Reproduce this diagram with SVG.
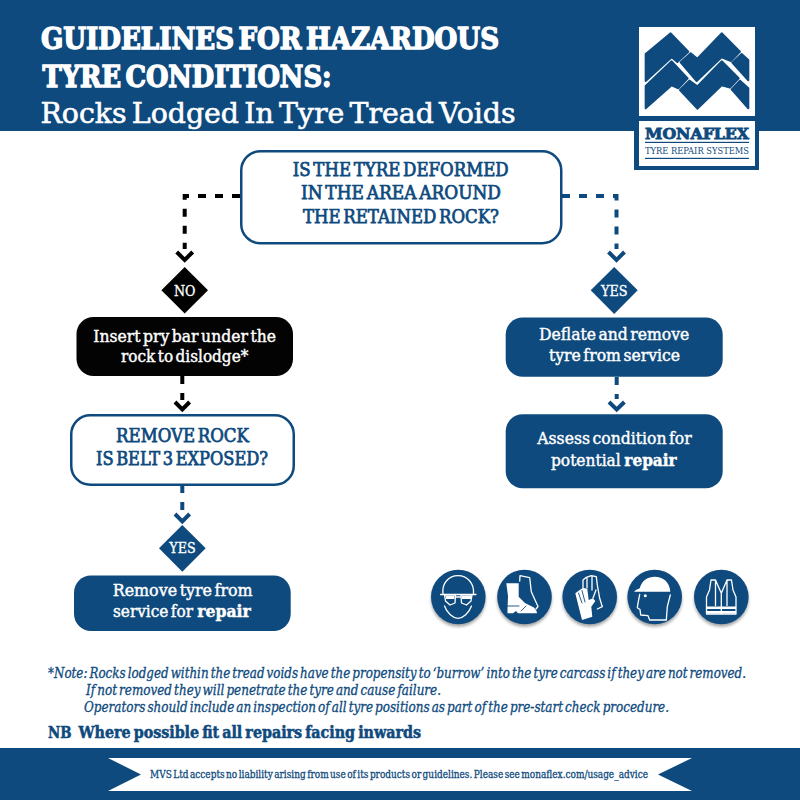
<svg xmlns="http://www.w3.org/2000/svg" width="800" height="800" viewBox="0 0 800 800">
<style>
.t{font-family:"DejaVu Serif Condensed","DejaVu Serif","Liberation Serif",serif}
.h1{font-size:29px;font-weight:bold;fill:#fff;stroke:#fff;stroke-width:1.300px;word-spacing:-.16em}
.h2{font-size:28px;fill:#fff;stroke:#fff;stroke-width:.55px;word-spacing:-.12em}
.q{font-size:19px;fill:#0e4a7e;stroke:#0e4a7e;stroke-width:.75px;word-spacing:-.14em}
.n{font-size:16.500px;fill:#fff;stroke:#fff;stroke-width:.4px;word-spacing:-.14em}
.rep{font-weight:bold}
.d{font-size:14px;fill:#fff;stroke:#fff;stroke-width:.3px}
.note{font-size:14px;font-style:italic;fill:#0e4a7e;stroke:#0e4a7e;stroke-width:.3px;word-spacing:-1.800px}
.nb{font-size:16px;font-weight:bold;fill:#0e4a7e;stroke:#0e4a7e;stroke-width:.5px;word-spacing:-.12em}
.foot{font-size:11.500px;fill:#0e4a7e;stroke:#0e4a7e;stroke-width:.3px;word-spacing:-.14em}
.dk{fill:none;stroke:#000;stroke-width:4;stroke-dasharray:8 9}
.db{fill:none;stroke:#0e4a7e;stroke-width:4;stroke-dasharray:8 9}
.ck{fill:none;stroke:#000;stroke-width:4}
.cb{fill:none;stroke:#0e4a7e;stroke-width:4}
.ic{fill:none;stroke:#fff;stroke-width:1.300;stroke-linejoin:round;stroke-linecap:round}
.if{fill:#fff;stroke:none}
.il{fill:none;stroke:#0e4a7e;stroke-width:.9;stroke-linecap:round}
</style>
<defs><filter id="sh" x="-20%" y="-20%" width="140%" height="150%"><feGaussianBlur stdDeviation="1.500"/></filter></defs>
<rect width="800" height="800" fill="#fff"/>
<rect id="header" width="800" height="131" fill="#0e4a7e"/>
<rect id="footer" y="748" width="800" height="52" fill="#0e4a7e"/>
<text class="t h1" x="41" y="48.500" textLength="458" lengthAdjust="spacingAndGlyphs">GUIDELINES FOR HAZARDOUS</text>
<text class="t h1" x="42.500" y="86.500" textLength="289" lengthAdjust="spacingAndGlyphs">TYRE CONDITIONS:</text>
<text class="t h2" x="40.500" y="122.500" textLength="475" lengthAdjust="spacingAndGlyphs">Rocks Lodged In Tyre Tread Voids</text>
<g id="logo">
<rect x="634" y="120" width="125" height="50" fill="#0e4a7e"/>
<rect x="639" y="27" width="116" height="89" fill="#fff"/>
<rect x="639" y="121" width="116" height="45" fill="#fff"/>
<g transform="translate(620 10) scale(.3333)" fill="#0e4a7e" stroke="#0e4a7e" stroke-width="6" stroke-linejoin="round">
<path d="M77 132 152 70 205 125 172 156 155 142 77 213Z"/>
<path d="M182 157 212 130 232 146 305 70 360 125 333 153 305 142 230 213Z"/>
<path d="M337 158 365 132 385 150 385 211Z"/>
<path d="M77 228 155 154 203 205 175 235 155 226 77 295Z"/>
<path d="M180 240 208 212 232 229 305 154 356 205 330 233 305 226 232 296Z"/>
<path d="M335 238 360 212 385 235 385 295Z"/>
</g>
<text class="t" x="645" y="139" font-size="15.500" font-weight="bold" fill="#0e4a7e" stroke="#0e4a7e" stroke-width=".8" textLength="104" lengthAdjust="spacingAndGlyphs">MONAFLEX</text>
<rect x="645" y="141.800" width="104" height="1.200" fill="#0e4a7e"/>
<text class="t" x="645" y="154" font-size="9" fill="#0e4a7e" textLength="104" lengthAdjust="spacingAndGlyphs">TYRE REPAIR SYSTEMS</text>
<rect x="645" y="157.800" width="104" height="1.200" fill="#0e4a7e"/>
</g>
<g id="connectors">
<path class="dk" d="M240 196H184.700V249"/>
<path class="ck" d="M176.700 252 184.700 260 192.700 252"/>
<path class="dk" d="M182.300 376V400"/>
<path class="ck" d="M175 402 182.300 409.500 189.600 402"/>
<path class="db" d="M562 196H616.500V249"/>
<path class="cb" d="M608.500 252 616.500 260 624.500 252"/>
<path class="db" d="M182.300 485V510"/>
<path class="cb" d="M175 514 182.300 521.300 189.600 514"/>
<path class="db" d="M616.700 377V399"/>
<path class="cb" d="M609 402 616.700 409.500 624.400 402"/>
</g>
<g id="q1"><rect x="241.250" y="151.250" width="320" height="92" rx="19" fill="#fff" stroke="#0e4a7e" stroke-width="2.500"/>
<text class="t q" x="292.700" y="175.700" textLength="216" lengthAdjust="spacingAndGlyphs">IS THE TYRE DEFORMED</text>
<text class="t q" x="301" y="199.300" textLength="200" lengthAdjust="spacingAndGlyphs">IN THE AREA AROUND</text>
<text class="t q" x="303" y="222.700" textLength="196" lengthAdjust="spacingAndGlyphs">THE RETAINED ROCK?</text></g>
<g id="no"><path d="M184.700 267 208 290.300 184.700 313.600 161.400 290.300Z" fill="#000"/>
<text class="t d" x="174" y="296" textLength="21.500" lengthAdjust="spacingAndGlyphs">NO</text></g>
<g id="yes-right"><path d="M614.200 267 637.700 290.300 614.200 314 590.700 290.300Z" fill="#0e4a7e"/>
<text class="t d" x="601" y="296" textLength="26.500" lengthAdjust="spacingAndGlyphs">YES</text></g>
<g id="pry"><rect x="76.500" y="317" width="216.500" height="59" rx="17" fill="#030303"/>
<text class="t n" x="93.300" y="341.700" textLength="182.700" lengthAdjust="spacingAndGlyphs">Insert pry bar under the</text>
<text class="t n" x="121" y="362.300" textLength="127.300" lengthAdjust="spacingAndGlyphs">rock to dislodge*</text></g>
<g id="deflate"><rect x="505.700" y="317.500" width="217" height="59.200" rx="17" fill="#0e4a7e"/>
<text class="t n" x="539" y="340" textLength="150.300" lengthAdjust="spacingAndGlyphs">Deflate and remove</text>
<text class="t n" x="549" y="360.700" textLength="131" lengthAdjust="spacingAndGlyphs">tyre from service</text></g>
<g id="remove"><rect x="71.250" y="415.250" width="222.500" height="69.500" rx="19" fill="#fff" stroke="#0e4a7e" stroke-width="2.500"/>
<text class="t q" x="116" y="442.300" textLength="133" lengthAdjust="spacingAndGlyphs">REMOVE ROCK</text>
<text class="t q" x="96" y="465" textLength="172" lengthAdjust="spacingAndGlyphs">IS BELT 3 EXPOSED?</text></g>
<g id="assess"><rect x="505.700" y="414.300" width="217" height="74" rx="17" fill="#0e4a7e"/>
<text class="t n" x="537.300" y="444" textLength="154.400" lengthAdjust="spacingAndGlyphs">Assess condition for</text>
<text class="t n" y="466"><tspan x="551" textLength="69.700" lengthAdjust="spacingAndGlyphs">potential</tspan> <tspan class="rep" x="624.300" textLength="52.400" lengthAdjust="spacingAndGlyphs">repair</tspan></text></g>
<g id="yes-left"><path d="M182.300 525 205.700 548.300 182.300 571.700 159 548.300Z" fill="#0e4a7e"/>
<text class="t d" x="169.300" y="553.300" textLength="26.400" lengthAdjust="spacingAndGlyphs">YES</text></g>
<g id="removetyre"><rect x="74" y="575.500" width="216.700" height="55.500" rx="17" fill="#0e4a7e"/>
<text class="t n" x="112.700" y="596" textLength="140" lengthAdjust="spacingAndGlyphs">Remove tyre from</text>
<text class="t n" y="617.300"><tspan x="113" textLength="80" lengthAdjust="spacingAndGlyphs">service for</tspan> <tspan class="rep" x="197.300" textLength="53.400" lengthAdjust="spacingAndGlyphs">repair</tspan></text></g>
<g id="ppe">
<g fill="#000" opacity=".35" filter="url(#sh)"><circle cx="458.300" cy="599.500" r="27.300"/><circle cx="524.500" cy="599.500" r="27.300"/><circle cx="589.700" cy="599.500" r="27.300"/><circle cx="654.700" cy="599.500" r="27.300"/><circle cx="721.300" cy="599.500" r="27.300"/></g>
<g fill="#0e4a7e"><circle cx="458.300" cy="597" r="27.300"/><circle cx="524.500" cy="597" r="27.300"/><circle cx="589.700" cy="597" r="27.300"/><circle cx="654.700" cy="597" r="27.300"/><circle cx="721.300" cy="597" r="27.300"/></g>
<g id="goggles"><path class="ic" d="M443 594C441.500 583 449 575.700 458 575.700S474.500 583 473.500 594M444.500 606C447 613 453 618.300 458 618.300S469 613 471.500 606"/>
<path class="ic" d="M440.500 594.500H476M444.500 595H455.500L455 603 450 605 445.500 601ZM461 595H472L471 601 466.500 605 461.500 603ZM455.500 597H461"/><path class="if" d="M445.500 596H454.500V599H446ZM462 596H471V599H462Z"/></g>
<g id="boots"><path class="ic" d="M519.700 581 520 575.700 529.700 577.700 531.300 591.700 538 606.500 536 609"/>
<path class="if" d="M506.300 583.300H518.700V596.700L525 603 534 607.500 536.500 611 537 613.300 518 613.300 516 611 513 613.300H507.500V609L508 596Z"/>
<path class="il" d="M507 606H519M526 606 521 611"/></g>
<g id="gloves"><path class="ic" d="M583 588.300V580L586.300 577.300 591.300 575.700 596.300 576.700 597.300 585 599.700 598.300 602.300 606.700 597.300 609M587 578V588M592 576V590M596 590 593 598"/>
<path class="if" d="M575.300 593.300 579 590.500 582 588.500 584 588 587.300 589 588.700 600 593 598.300 595.300 601 591.300 606.700 592.300 616.700 582 620Z"/>
<path class="il" d="M578.500 593 582 603M582 590.500 585 602"/></g>
<g id="helmet"><path class="if" d="M634 591.700Q635 590 639.700 588.300C642 580 648 576.700 654.700 576.700C663 576.700 669.700 582 670.300 591.700H639.700Z"/>
<path class="ic" d="M639.700 594.300 638 603.300 637.300 607.700 640 609.500 640.700 615 648 615.700 649.700 620H666.300L667.300 606.700 670.300 595"/><circle cx="645.300" cy="595.700" r="1.500" fill="#fff"/></g>
<g id="vest"><path class="ic" d="M711 580H715.500L721.300 593.300 727 580H731.500L733 590 736 597V614H706.500V597L709.500 590ZM715.500 580V605.500M727 580V605.500M721.300 593.300V614"/>
<path class="if" d="M706.500 606.500H736V609H706.500ZM706.500 611H736V613.500H706.500Z"/></g>
</g>
<g id="notes">
<text class="t note" x="48" y="678" textLength="698" lengthAdjust="spacingAndGlyphs">*Note: Rocks lodged within the tread voids have the propensity to ‘burrow’ into the tyre carcass if they are not removed.</text>
<text class="t note" x="86" y="695" textLength="355" lengthAdjust="spacingAndGlyphs">If not removed they will penetrate the tyre and cause failure.</text>
<text class="t note" x="84" y="712" textLength="585" lengthAdjust="spacingAndGlyphs">Operators should include an inspection of all tyre positions as part of the pre-start check procedure.</text>
<text class="t nb" y="738"><tspan x="48" textLength="23.500" lengthAdjust="spacingAndGlyphs">NB</tspan> <tspan x="78.500" textLength="342.500" lengthAdjust="spacingAndGlyphs">Where possible fit all repairs facing inwards</tspan></text>
</g>
<g id="ribbon"><path d="M108 758H692L658 774.500 692 791H108L141 774.500Z" fill="#fff"/>
<text class="t foot" x="150" y="778" textLength="498" lengthAdjust="spacingAndGlyphs">MVS Ltd accepts no liability arising from use of its products or guidelines. Please see monaflex.com/usage_advice</text></g>
</svg>
